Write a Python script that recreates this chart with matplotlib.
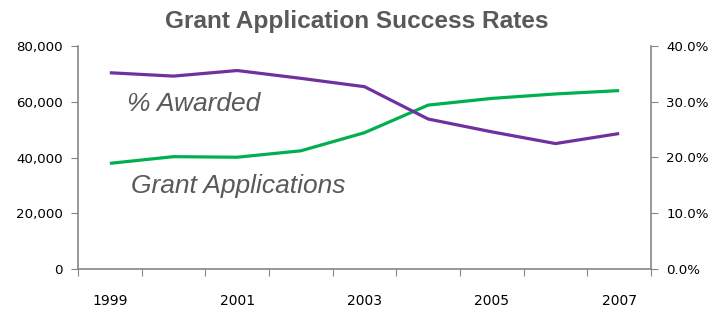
import numpy as np
import matplotlib.pyplot as plt
from matplotlib.ticker import FuncFormatter

# data
years = [1999, 2000, 2001, 2002, 2003, 2004, 2005, 2006, 2007]
applications = [37900, 40300, 40100, 42400, 48900, 58800, 61200, 62800, 64000]
pct_awarded = [35.2, 34.6, 35.6, 34.2, 32.7, 26.9, 24.6, 22.5, 24.3]
year_labels = ["1999", "", "2001", "", "2003", "", "2005", "", "2007"]

green = "#00B050"
purple = "#7030A0"
axis_grey = "#868686"

plt.rcParams["font.family"] = ["Liberation Sans", "DejaVu Sans"]

fig = plt.figure(figsize=(7.13, 3.09), dpi=100)
ax = fig.add_axes([78 / 713, 1 - 269 / 309, (651 - 78) / 713, (269 - 46) / 309])
ax2 = ax.twinx()

x = np.arange(len(years))
ax.plot(x, applications, color=green, lw=2.3, solid_capstyle="butt")
ax2.plot(x, pct_awarded, color=purple, lw=2.3, solid_capstyle="butt")

ax.set_xlim(-0.5, len(years) - 0.5)
ax.set_ylim(0, 80000)
ax2.set_ylim(0, 40)
ax.set_yticks(range(0, 80001, 20000))
ax2.set_yticks(range(0, 41, 10))
ax.yaxis.set_major_formatter(FuncFormatter(lambda v, p: f"{int(v):,}"))
ax2.yaxis.set_major_formatter(FuncFormatter(lambda v, p: f"{v:.1f}%"))

# ticks at category boundaries, labels centred under categories
ax.set_xticks(np.arange(-0.5, len(years), 1))
ax.set_xticklabels([])
ax.set_xticks(x, minor=True)
ax.set_xticklabels(year_labels, minor=True)
ax.tick_params(axis="x", which="minor", length=0, pad=18)
ax.tick_params(axis="x", which="major", length=5, color=axis_grey)

tick_font = "DejaVu Sans"
for a in (ax, ax2):
    a.spines["top"].set_visible(False)
    for s in ("left", "right", "bottom"):
        a.spines[s].set_color(axis_grey)
        a.spines[s].set_linewidth(1.2)
    a.tick_params(axis="y", length=5, color=axis_grey, labelsize=9.6, pad=6)
    a.tick_params(axis="x", labelsize=9.6)
    for lbl in a.get_yticklabels() + a.get_xticklabels(minor=True):
        lbl.set_family(tick_font)
ax2.spines["left"].set_visible(False)
ax2.spines["bottom"].set_visible(False)
ax.spines["right"].set_visible(False)

fig.suptitle("Grant Application Success Rates", x=0.5, y=0.968,
             fontsize=17.6, fontweight="bold", color="#595959")

fig.text(127 / 713, 1 - 104 / 309, "% Awarded", fontsize=19, style="italic",
         color="#595959", va="center")
fig.text(131 / 713, 1 - 186 / 309, "Grant Applications", fontsize=19, style="italic",
         color="#595959", va="center")

fig.savefig("out.png", dpi=100)
